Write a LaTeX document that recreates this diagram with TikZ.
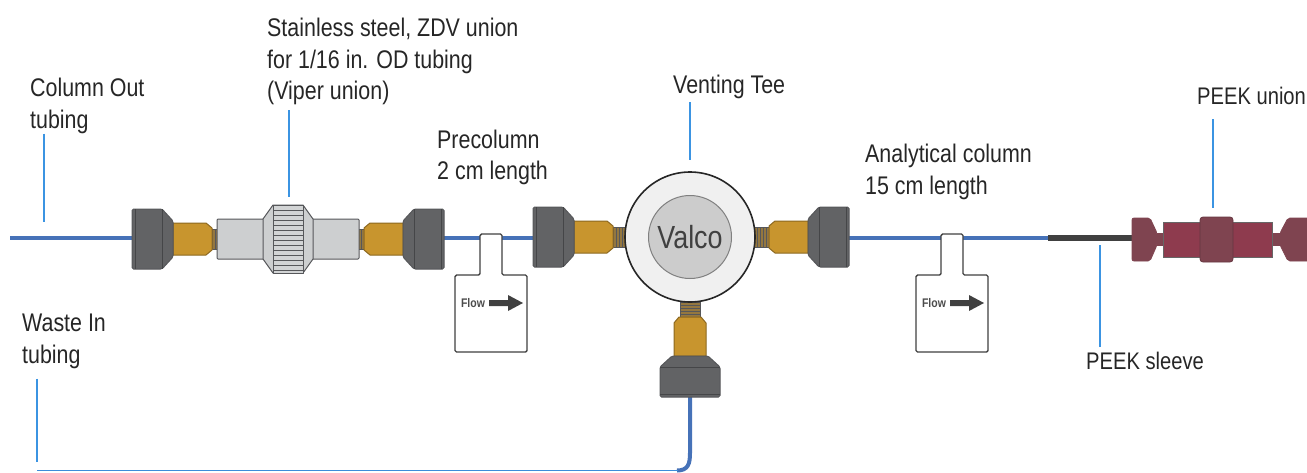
\documentclass[tikz,border=0pt]{standalone}
\usepackage{fontspec}
\setmainfont[FakeStretch=0.84]{Liberation Sans}
\usetikzlibrary{positioning, arrows.meta}

\definecolor{tubeblue}{HTML}{4672B8}
\definecolor{leaderblue}{HTML}{3B94E2}
\definecolor{nutgrey}{HTML}{626365}
\definecolor{edgegrey}{HTML}{56575A}
\definecolor{brass}{HTML}{C8952E}
\definecolor{threadbrown}{HTML}{94773F}
\definecolor{steel}{HTML}{CDCFD0}
\definecolor{peekred}{HTML}{8E3B4E}
\definecolor{peekdark}{HTML}{7F4450}

\begin{document}
\begin{tikzpicture}[
    x=1pt,
    y=-1pt,
    label/.style={
        align=left,
        anchor=north west,
        inner sep=0pt,
        font=\fontsize{25.5}{31.5}\selectfont,
        text=black!85
    },
    peeklabel/.style={
        label,
        font=\fontsize{24}{31.5}\selectfont
    },
    leader/.style={leaderblue, line width=2pt},
    tube/.style={tubeblue, line width=4pt},
    part/.style={draw=edgegrey, line width=1pt, line join=round},
    fitting/.pic={
        \draw[part, fill=threadbrown] (80,-10) rectangle (96,10);
        \foreach \tx in {83,86,...,95} {
            \draw[edgegrey, line width=0.4pt] (\tx,-10) -- (\tx,10);
        }
        \draw[part, fill=brass, draw=brass!70!black] (41,-16) -- (74,-16) -- (80,-11)
            -- (80,11) -- (74,16) -- (41,16) -- cycle;
        \draw[part, fill=nutgrey, rounded corners=1.5pt] (0,-30) -- (30,-30) -- (41,-18)
            -- (41,18) -- (30,30) -- (0,30) -- cycle;
        \draw[edgegrey!80!black, line width=0.8pt] (30,-30) -- (30,30);
        \draw[edgegrey!80!black, line width=0.8pt] (3,-30) -- (3,30);
    },
    flowbox/.pic={
        \draw[black!75, line width=1.4pt, fill=white, rounded corners=1.5pt]
            (-11,0) -- (11,0) -- (11,41) -- (36,41) -- (36,118) -- (-36,118) -- (-36,41)
            -- (-11,41) -- cycle;
        \node[inner sep=0pt, font=\fontsize{12.5}{12.5}\selectfont\bfseries, text=black!70]
            (flowtext) at (-18,69) {Flow};
        \fill[black!75] (-2,66) -- (17,66) -- (17,61) -- (32,69) -- (17,77) -- (17,72)
            -- (-2,72) -- cycle;
    }
]

\clip (0,0) rectangle (1307,472);
\useasboundingbox (0,0) rectangle (1307,472);

\node[label] (columnout) at (30,78) {Column Out\\tubing};
\node[label] (zdvunion) at (267,18) {Stainless steel, ZDV union\\for 1/16 in. OD tubing\\(Viper union)};
\node[label] (precolumn) at (437,129.5) {Precolumn\\2 cm length};
\node[label] (ventingtee) at (673,75) {Venting Tee};
\node[label] (analytical) at (865,144) {Analytical column\\15 cm length};
\node[peeklabel] (peekunion) at (1197,87) {PEEK union};
\node[peeklabel] (peeksleeve) at (1086,352) {PEEK sleeve};
\node[label] (wastein) at (22,314) {Waste In\\tubing};

\coordinate (columntip) at (44,222);
\coordinate (zdvtip) at (289,197);
\coordinate (teetip) at (690,160);
\coordinate (uniontip) at (1213,208);
\coordinate (sleevetip) at (1100,245);
\coordinate (wastetip) at (37,462);

\coordinate (tubestart) at (10,238);
\coordinate (sleevestart) at (1048,238);
\coordinate (sleeveend) at (1132,238);
\coordinate (teeport) at (690,397);
\coordinate (wasteend) at (37,470.5);

\draw[leader] (columnout.south -| columntip) -- (columntip);
\draw[leader] ([yshift=-5pt]zdvunion.south -| zdvtip) -- (zdvtip);
\draw[leader] ([yshift=-3pt]ventingtee.south -| teetip) -- (teetip);
\draw[leader] ([yshift=-14pt]peekunion.south -| uniontip) -- (uniontip);
\draw[leader] ([yshift=5pt]peeksleeve.north -| sleevetip) -- (sleevetip);
\draw[leader] ([yshift=-10pt]wastein.south -| wastetip) -- (wastetip);

\draw[tube] (tubestart) -- (sleevestart);
\draw[black!75, line width=6pt] (sleevestart) -- (sleeveend);
\draw[tube] (teeport) -- (690,453) .. controls (690,464) and (688,470.5) .. (677,470.5);
\draw[leaderblue!80!tubeblue, line width=1.2pt] (678,470.5) -- (wasteend);

\pic at (132,239) {fitting};
\pic[xscale=-1] at (444,239) {fitting};
\pic at (533,237) {fitting};
\pic[xscale=-1] at (849,237) {fitting};
\pic[rotate=90] at (690,397) {fitting};

\draw[part, fill=steel, rounded corners=1pt] (217,219) rectangle (359,259);
\draw[part, fill=steel] (263,219) -- (273,205) -- (303,205) -- (313,219) -- (313,259)
    -- (303,273) -- (273,273) -- (263,259) -- cycle;
\draw[part, fill=steel!90!white] (273,205) rectangle (303,273);
\foreach \ry in {210,215,...,270} {
    \draw[edgegrey, line width=0.6pt] (273,\ry) -- (303,\ry);
}

\node[circle, draw=black!85, line width=1.6pt, fill=white!94!black, minimum size=130pt, inner sep=0pt]
    (valve) at (690,237) {};
\node[circle, draw=black!50, line width=1pt, fill=black!20, minimum size=83pt, inner sep=0pt,
    font=\fontsize{32}{32}\selectfont, text=black!75] (valco) at (valve.center) {Valco};

\pic at (491,234) {flowbox};
\pic at (952,234) {flowbox};

\draw[peekdark, line width=0.6pt, fill=peekdark] (1157,233) rectangle (1163,245);
\draw[peekdark, line width=0.6pt, fill=peekdark] (1272,233) rectangle (1280,245);
\draw[peekdark, line width=0.8pt, fill=peekdark, rounded corners=2pt] (1132,218) -- (1150,218)
    -- (1157,233) -- (1157,245) -- (1150,261) -- (1132,261) -- cycle;
\draw[black!60, line width=0.8pt, fill=peekred] (1163,222) rectangle (1272,257);
\draw[peekdark!80!black, line width=0.8pt, fill=peekdark, rounded corners=3pt] (1200,217)
    rectangle (1233,262);
\draw[peekdark, line width=0.8pt, fill=peekdark, rounded corners=2pt] (1280,233) -- (1288,218)
    -- (1310,218) -- (1310,261) -- (1288,261) -- (1280,245) -- cycle;

\end{tikzpicture}
\end{document}
